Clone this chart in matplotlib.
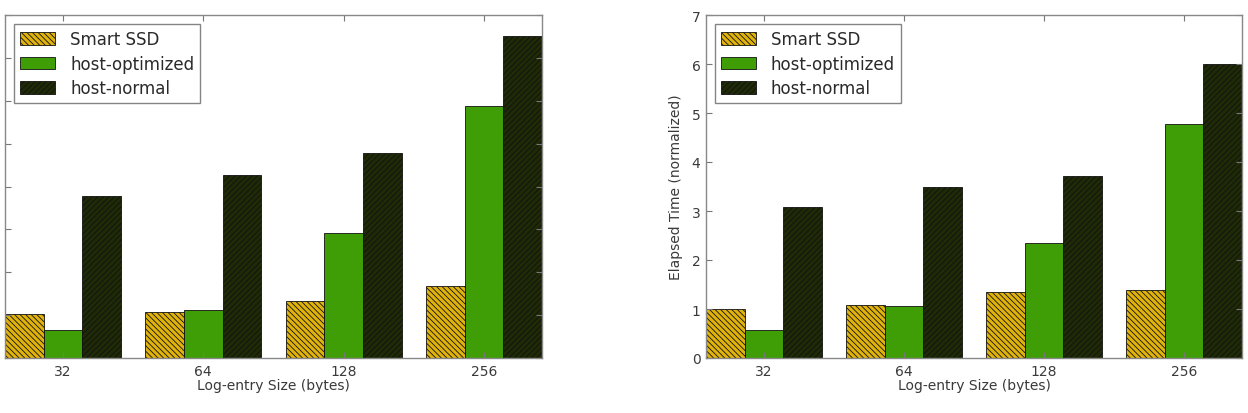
import numpy as np
import matplotlib
matplotlib.use("Agg")
import matplotlib.pyplot as plt

categories = ["32", "64", "128", "256"]
series_names = ["Smart SSD", "host-optimized", "host-normal"]

left_ssd = [1.03, 1.08, 1.34, 1.67]
left_opt = [0.66, 1.12, 2.91, 5.87]
left_normal = [3.78, 4.27, 4.77, 7.51]

right_ssd = [1.00, 1.08, 1.35, 1.38]
right_opt = [0.57, 1.06, 2.34, 4.78]
right_normal = [3.08, 3.48, 3.72, 6.00]

plt.rcParams['hatch.linewidth'] = 0.6

W, H = 1248, 414
fig = plt.figure(figsize=(W / 100, H / 100), dpi=100)

colors = ["#e0b20c", "#3f9e06", "#1f2a06"]
hatches = ["\\" * 6, None, "/" * 6]
width = 0.275


def draw(ax, data, ymax, yticks):
    x = np.arange(len(categories))
    for i, (vals, name) in enumerate(zip(data, series_names)):
        ax.bar(x - width + i * width, vals, width, color=colors[i],
               hatch=hatches[i], edgecolor='#111111', linewidth=0.6, label=name)
    ax.set_xlim(x[0] - 1.5 * width, x[-1] + 1.5 * width)
    ax.set_ylim(0, ymax)
    ax.set_xticks(x)
    ax.set_xticklabels(categories)
    ax.set_yticks(yticks)
    ax.tick_params(direction='in', top=True, right=True, length=4,
                   color='#777777', labelsize=10, labelcolor='#3a3a3a', pad=4)
    for s in ax.spines.values():
        s.set_color('#888888')
        s.set_linewidth(1.0)
    ax.set_xlabel("Log-entry Size (bytes)", fontsize=10, color='#3a3a3a', labelpad=0)
    ax.set_ylabel("Elapsed Time (normalized)", fontsize=10, color='#3a3a3a', labelpad=6)
    leg = ax.legend(loc='upper left', fontsize=12, frameon=True, fancybox=False,
                    borderaxespad=0.55, handlelength=2.1, handleheight=0.8,
                    labelspacing=0.4, borderpad=0.35, handletextpad=0.9)
    leg.get_frame().set_edgecolor('#666666')
    leg.get_frame().set_linewidth(1.0)
    for t in leg.get_texts():
        t.set_color('#2a2a2a')


ax1 = fig.add_axes([5 / W, 55 / H, 537 / W, 343 / H])
draw(ax1, [left_ssd, left_opt, left_normal], 8, range(0, 9))

ax2 = fig.add_axes([706 / W, 55 / H, 536 / W, 343 / H])
draw(ax2, [right_ssd, right_opt, right_normal], 7, range(0, 8))

fig.savefig("out.png", dpi=100)
